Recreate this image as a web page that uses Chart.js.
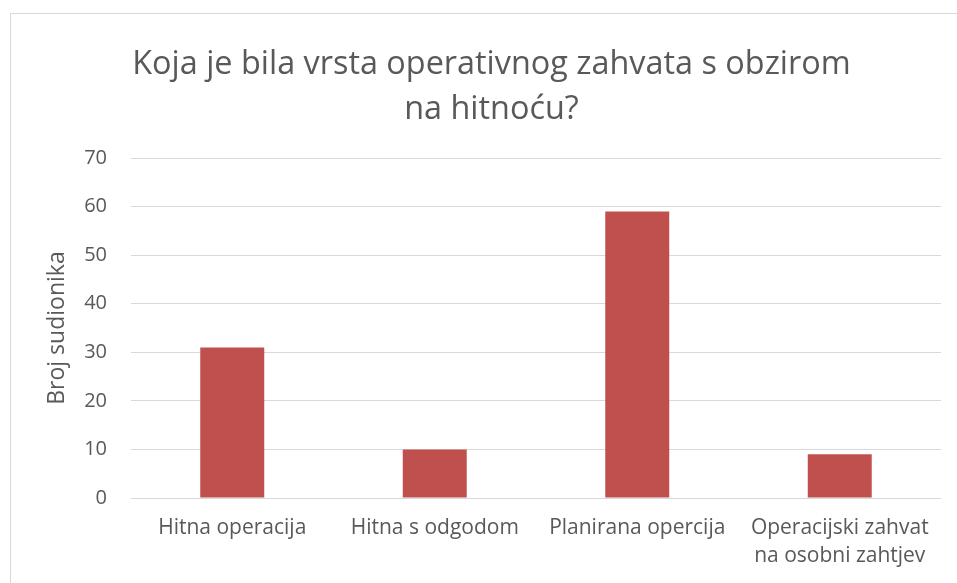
<!DOCTYPE html>
<html>
<head>
<meta charset="utf-8">
<script src="https://cdn.jsdelivr.net/npm/chart.js@4.4.0/dist/chart.umd.min.js"></script>
<style>
  html, body { margin: 0; padding: 0; background: #fff; }
  #wrap { position: relative; width: 957px; height: 583px; overflow: hidden; }
  #frame { position: absolute; left: 10px; top: 13px; width: 960px; height: 600px; border: 1px solid #d9d9d9; box-sizing: border-box; }
  canvas { position: absolute; left: 0; top: 0; }
</style>
</head>
<body>
<div id="wrap">
  <div id="frame"></div>
  <canvas id="chart" width="957" height="583"></canvas>
</div>
<script>
// Data
const categories = [
    'Hitna operacija',
    'Hitna s odgodom',
    'Planirana opercija',
    ['Operacijski zahvat', 'na osobni zahtjev']
];
const participants = [31, 10, 59, 9];
const titleLines = ['Koja je bila vrsta operativnog zahvata s obzirom', 'na hitnoću?'];
const yAxisTitle = 'Broj sudionika';

const textColor = '#595959';
const fontFamily = '"Open Sans", "Noto Sans", sans-serif';

const ctx = document.getElementById('chart').getContext('2d');
new Chart(ctx, {
    type: 'bar',
    data: {
        labels: categories,
        datasets: [{
            label: yAxisTitle,
            data: participants,
            backgroundColor: '#C0504D',
            borderWidth: 0,
            barPercentage: 1,
            categoryPercentage: 0.316
        }]
    },
    options: {
        responsive: false,
        animation: false,
        layout: {
            padding: { left: 42, right: 16, top: 0, bottom: 0 }
        },
        plugins: {
            legend: { display: false },
            tooltip: { enabled: false },
            title: {
                display: true,
                text: titleLines,
                color: textColor,
                font: { family: fontFamily, size: 32.4, weight: 'normal', lineHeight: 1.39 },
                padding: { top: 42, bottom: 26 }
            }
        },
        scales: {
            y: {
                min: 0,
                max: 70,
                ticks: {
                    stepSize: 10,
                    color: textColor,
                    padding: 24,
                    font: { family: fontFamily, size: 20 }
                },
                grid: { color: '#d9d9d9', lineWidth: 1, drawTicks: false },
                border: { display: false },
                title: {
                    display: true,
                    text: yAxisTitle,
                    color: textColor,
                    font: { family: fontFamily, size: 23 },
                    padding: { top: 2, bottom: 0 }
                },
                afterFit: function(scale) { scale.width = 89; }
            },
            x: {
                ticks: {
                    color: textColor,
                    padding: 16,
                    maxRotation: 0,
                    font: { family: fontFamily, size: 21, lineHeight: 1.33 }
                },
                grid: { display: false, drawTicks: false },
                border: { display: false },
                afterFit: function(scale) { scale.height = 85; }
            }
        }
    }
});
</script>
</body>
</html>
